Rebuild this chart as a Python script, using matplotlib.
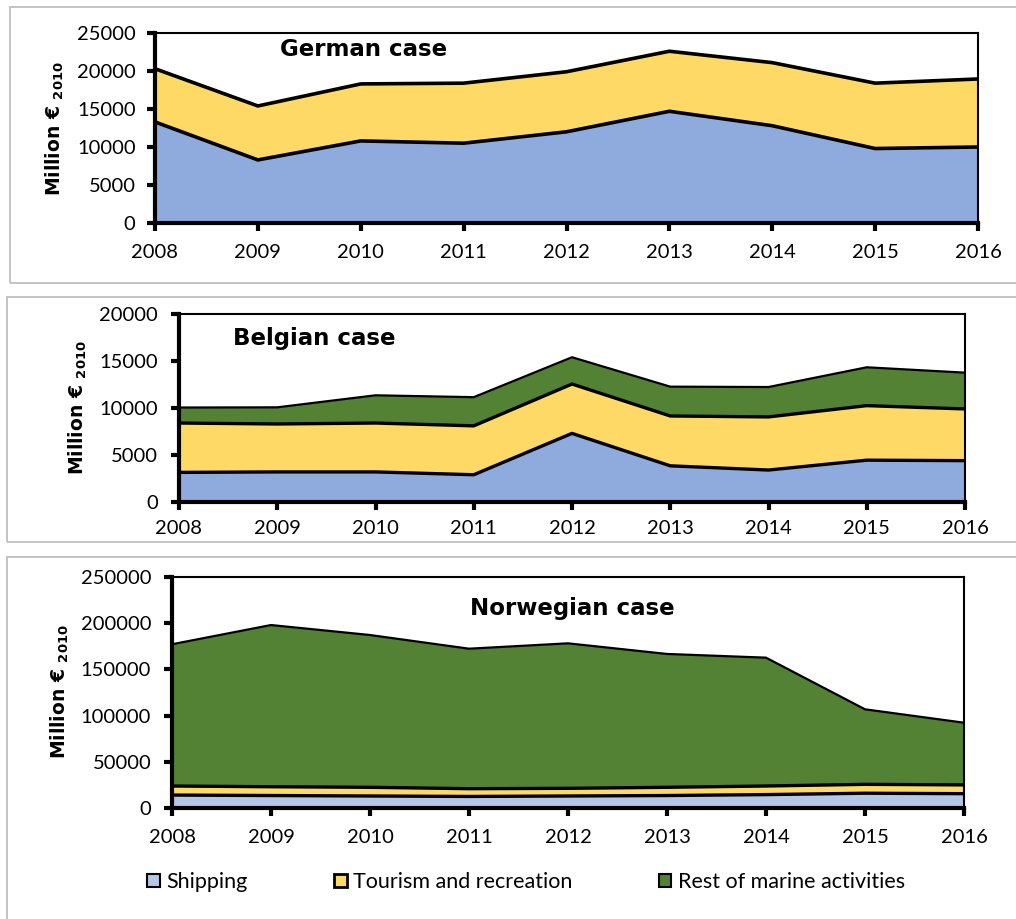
import matplotlib
matplotlib.use("Agg")
import matplotlib.pyplot as plt
from matplotlib.patches import Rectangle, Patch

years = [2008, 2009, 2010, 2011, 2012, 2013, 2014, 2015, 2016]

# German case (Million EUR 2010)
de_shipping = [13300, 8300, 10800, 10500, 12000, 14700, 12800, 9800, 10000]
de_total = [20300, 15400, 18300, 18400, 19900, 22600, 21100, 18400, 18950]
de_tourism = [t - s for t, s in zip(de_total, de_shipping)]

# Belgian case
be_shipping = [3150, 3200, 3200, 2900, 7300, 3850, 3400, 4450, 4400]
be_tour_top = [8400, 8300, 8400, 8100, 12550, 9150, 9050, 10250, 9900]
be_total = [10050, 10070, 11350, 11150, 15400, 12270, 12230, 14330, 13760]
be_tourism = [a - b for a, b in zip(be_tour_top, be_shipping)]
be_rest = [a - b for a, b in zip(be_total, be_tour_top)]

# Norwegian case
no_shipping = [14000, 13500, 13000, 12500, 13000, 13500, 14500, 16000, 15500]
no_tour_top = [23800, 23000, 22400, 20900, 21300, 22400, 23800, 25600, 25000]
no_total = [177200, 198000, 187200, 172400, 178200, 166700, 162700, 106800, 92300]
no_tourism = [a - b for a, b in zip(no_tour_top, no_shipping)]
no_rest = [a - b for a, b in zip(no_total, no_tour_top)]

legend_labels = ["Shipping", "Tourism and recreation", "Rest of marine activities"]

BLUE = "#8FAADC"
BLUE_LIGHT = "#B4C7E7"
YELLOW = "#FFD966"
GREEN = "#548235"

W, H = 1016, 919
fig = plt.figure(figsize=(W / 100, H / 100), dpi=100)

TICKFONT = "Lato"
TICKSIZE = 14.5
TITLESIZE = 16.5


def fx(px):
    return px / W


def fy(py):
    return 1 - py / H


# panel frames (gray boxes)
for (x0, y0, x1, y1) in [(10, 7, 1030, 283), (7, 297, 1030, 542), (7, 557, 1030, 935)]:
    fig.patches.append(Rectangle((fx(x0), fy(y1)), fx(x1 - x0), fy(y0) - fy(y1),
                                 transform=fig.transFigure, fill=False,
                                 edgecolor="#BFBFBF", linewidth=1.3, zorder=0))


def make_ax(l, r, t, b):
    return fig.add_axes([fx(l), fy(b), fx(r - l), fy(t) - fy(b)])


def style(ax, ymax, ystep, xpad, ypad):
    ax.set_xlim(2008, 2016)
    ax.set_ylim(0, ymax)
    ax.set_xticks(years)
    ax.set_yticks(range(0, ymax + 1, ystep))
    ax.set_xticklabels([str(y) for y in years], fontfamily=TICKFONT, fontsize=TICKSIZE)
    ax.set_yticklabels([str(v) for v in range(0, ymax + 1, ystep)], fontfamily=TICKFONT, fontsize=TICKSIZE)
    ax.tick_params(axis="x", direction="out", length=6, width=3, pad=xpad)
    ax.tick_params(axis="y", direction="out", length=6, width=3, pad=ypad)
    ax.spines["left"].set_linewidth(3)
    ax.spines["bottom"].set_linewidth(3)
    ax.spines["top"].set_linewidth(1.5)
    ax.spines["right"].set_linewidth(1.5)
    for s in ax.spines.values():
        s.set_color("black")
        s.set_zorder(5)


def ylabel(x, y):
    fig.text(fx(x), fy(y), r"Million € $\mathbf{_{2010}}$", rotation=90, ha="center", va="center",
             fontsize=13.5, fontweight="bold", fontfamily="DejaVu Sans")


# ---- German ----
ax1 = make_ax(155, 978, 33, 223)
ax1.fill_between(years, 0, de_shipping, color=BLUE, linewidth=0)
ax1.fill_between(years, de_shipping, de_total, color=YELLOW, linewidth=0)
ax1.plot(years, de_shipping, color="black", lw=2.6, solid_joinstyle="miter")
ax1.plot(years, de_total, color="black", lw=2.6, solid_joinstyle="miter")
style(ax1, 25000, 5000, 9, 8)
fig.text(fx(364), fy(49), "German case", ha="center", va="center", fontsize=TITLESIZE,
         fontweight="bold", fontfamily="DejaVu Sans")
ylabel(55, 129)

# ---- Belgian ----
ax2 = make_ax(179, 965, 314, 502)
c1 = be_shipping
c2 = be_tour_top
ax2.fill_between(years, 0, c1, color=BLUE, linewidth=0)
ax2.fill_between(years, c1, c2, color=YELLOW, linewidth=0)
ax2.fill_between(years, c2, be_total, color=GREEN, linewidth=0)
for line in (c1, c2):
    ax2.plot(years, line, color="black", lw=2.4)
ax2.plot(years, be_total, color="black", lw=1.6)
style(ax2, 20000, 5000, 7, 9)
fig.text(fx(314), fy(339), "Belgian case", ha="center", va="center", fontsize=TITLESIZE,
         fontweight="bold", fontfamily="DejaVu Sans")
ylabel(78, 408)

# ---- Norwegian ----
ax3 = make_ax(172, 964, 577, 808)
ax3.fill_between(years, 0, no_shipping, color=BLUE_LIGHT, linewidth=0)
ax3.fill_between(years, no_shipping, no_tour_top, color=YELLOW, linewidth=0)
ax3.fill_between(years, no_tour_top, no_total, color=GREEN, linewidth=0)
ax3.plot(years, no_shipping, color="black", lw=2.4)
ax3.plot(years, no_tour_top, color="black", lw=2.4)
ax3.plot(years, no_total, color="black", lw=1.6)
style(ax3, 250000, 50000, 9, 9)
fig.text(fx(572), fy(608), "Norwegian case", ha="center", va="center", fontsize=TITLESIZE,
         fontweight="bold", fontfamily="DejaVu Sans")
ylabel(60, 692)

handles = [Patch(facecolor=BLUE_LIGHT, edgecolor="black", linewidth=1.5),
           Patch(facecolor=YELLOW, edgecolor="black", linewidth=2.0),
           Patch(facecolor=GREEN, edgecolor="black", linewidth=1.5)]
fig.legend(handles, legend_labels, ncol=3, loc="center", bbox_to_anchor=(fx(526), fy(882)),
           frameon=False, prop={"family": TICKFONT, "size": 15.5},
           handlelength=0.6, handleheight=0.6, handletextpad=0.3, columnspacing=4.0,
           borderpad=0, borderaxespad=0)

fig.savefig("out.png", dpi=100)
